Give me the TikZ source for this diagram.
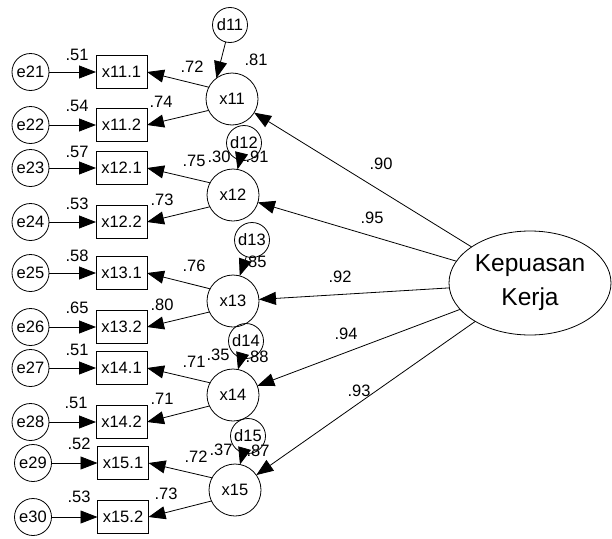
\documentclass[tikz,border=0pt]{standalone}
\usepackage{fontspec}
\setmainfont{Liberation Sans}
\usetikzlibrary{arrows.meta,shapes.geometric}
\begin{document}
\begin{tikzpicture}[x=1pt,y=-1pt,
  every node/.style={inner sep=0pt, outer sep=0pt},
  txt/.style={font=\fontsize{16.5}{16.5}\selectfont},
  obs/.style={draw, line width=0.8pt, minimum width=51pt, minimum height=33pt, txt},
  err/.style={draw, circle, line width=0.8pt, minimum size=37pt, txt},
  dist/.style={draw, circle, line width=0.8pt, minimum size=35pt, txt},
  lat/.style={draw, circle, line width=0.8pt, minimum size=52pt, txt},
  arr/.style={-{Triangle[length=17pt,width=13pt]}, line width=0.8pt},
]
\useasboundingbox (0,0) rectangle (612,538);

% exogenous construct
\node[draw, ellipse, line width=0.8pt, minimum width=162pt, minimum height=104pt,
      align=center, font=\fontsize{24.5}{34}\selectfont] (K) at (530,283) {Kepuasan\\Kerja};

% first-order constructs
\foreach \k/\x/\y in {11/232/99, 12/233/195, 13/233/301, 14/233/395, 15/235/490}
  \node[lat] (x\k) at (\x,\y) {x\k};

% disturbances
\node[dist] (d11) at (230,25)  {d11};
\node[dist] (d12) at (244,143) {d12};
\node[dist] (d13) at (252,240) {d13};
\node[dist] (d14) at (246,341) {d14};
\node[dist] (d15) at (248,436) {d15};

% indicators with their error terms
\foreach \n/\lab/\y/\ex/\bx in {21/11.1/72/30.5/121.5, 22/11.2/125/30.5/121.5,
    23/12.1/168/30.5/121.5, 24/12.2/222/30.5/121.5, 25/13.1/273/30.5/121.5,
    26/13.2/327/30.5/121.5, 27/14.1/368/30.5/121.5, 28/14.2/422/30.5/121.5,
    29/15.1/463/33/123, 30/15.2/517/33/123} {
  \node[err] (e\n) at (\ex,\y) {e\n};
  \node[obs] (b\n) at (\bx,\y) {x\lab};
  \draw[arr] (e\n) -- (b\n);
}

% loadings
\draw[arr] (x11.153) -- (b21.east);
\draw[arr] (x11.206) -- (b22.east);
\draw[arr] (x12.152) -- (b23.east);
\draw[arr] (x12.207) -- (b24.east);
\draw[arr] (x13.152) -- (b25.east);
\draw[arr] (x13.205) -- (b26.east);
\draw[arr] (x14.152) -- (b27.east);
\draw[arr] (x14.205) -- (b28.east);
\draw[arr] (x15.152) -- (b29.east);
\draw[arr] (x15.205) -- (b30.east);

% disturbance paths
\draw[arr] (d11) -- (x11.127);
\draw[arr] (d12) -- (x12.80);
\draw[arr] (d13) -- (x13.75);
\draw[arr] (d14) -- (x14.79);
\draw[arr] (d15) -- (x15.79);

% structural paths
\foreach \k in {11,...,15}
  \draw[arr] (K) -- (x\k);

% estimates
\foreach \x/\y/\v in {77/55/.51, 77/106/.54, 77/152/.57, 77/204/.53, 77/256/.58,
    77/308/.65, 77/350/.51, 76/403/.51, 79/444/.52, 79/497/.53,
    192/67/.72, 161/102/.74, 194/161/.75, 162/200/.73, 194/266/.76,
    162/305/.80, 194/362/.71, 162/399/.71, 196/457/.72, 166/494/.73,
    256/60/.81, 257/157/.91, 255/262/.85, 257/357/.88, 258/451/.87,
    219/157/.30, 218/355/.35, 221/450/.37,
    381/164/.90, 372/218/.95, 340/277/.92, 346/334/.94, 359/391/.93}
  \node[txt] at (\x,\y) {\v};
\end{tikzpicture}
\end{document}
